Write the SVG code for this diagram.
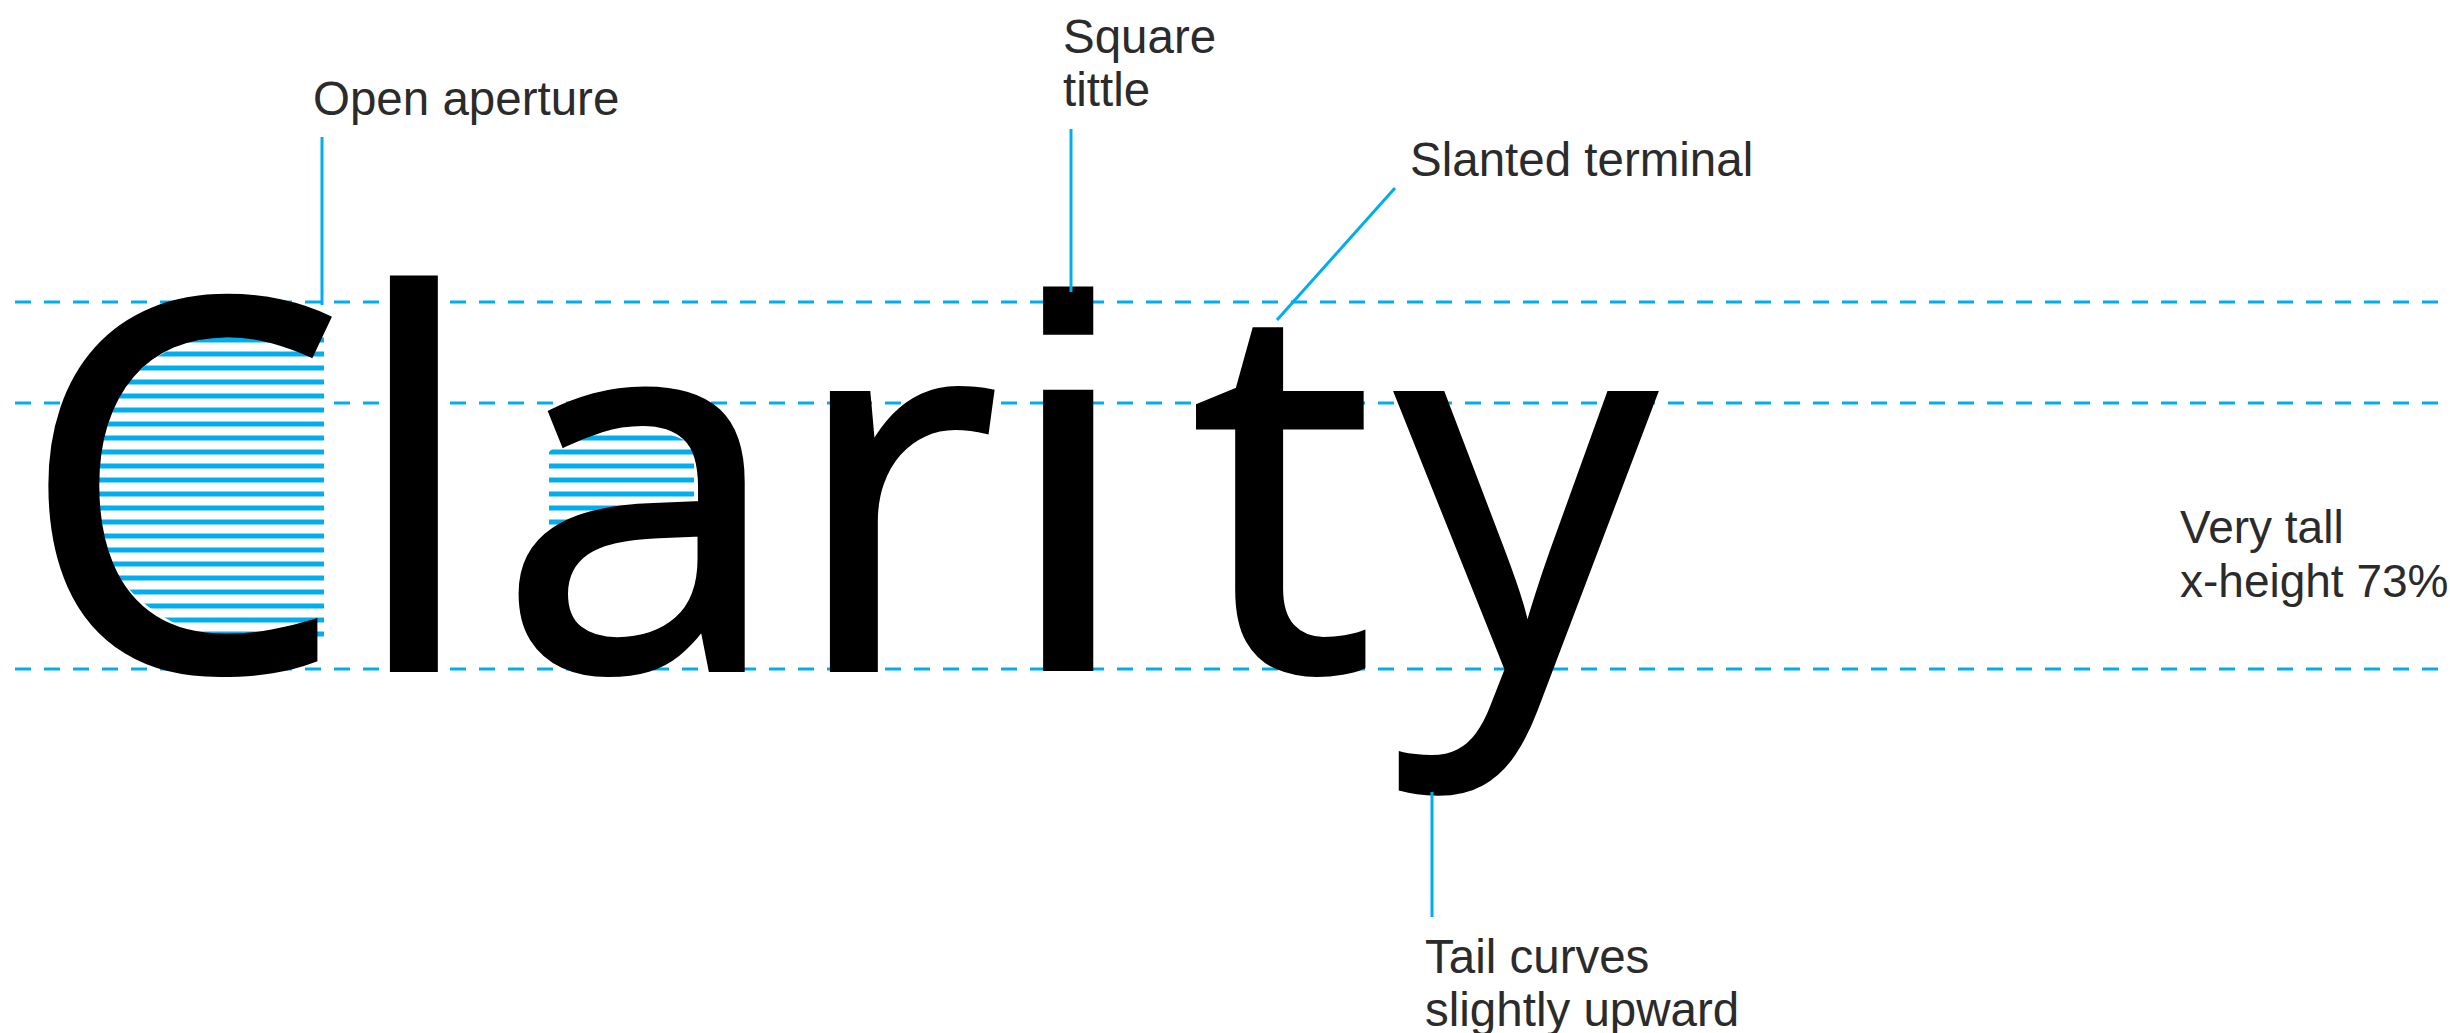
<svg xmlns="http://www.w3.org/2000/svg" width="2450" height="1033" viewBox="0 0 2450 1033">
  <style>
    .guide { stroke: #00aeef; stroke-width: 3; stroke-dasharray: 16 13; fill: none; }
    .leader { stroke: #00aeef; stroke-width: 3; fill: none; }
    .label { font-family: "Liberation Sans", Arial, sans-serif; font-size: 47.5px; fill: #2b2b2b; }
    .label-sm { font-size: 46px; }
    .specimen { font-family: "Open Sans", "Noto Sans", sans-serif; font-size: 514px; font-weight: 400; fill: #000000; stroke: #000000; stroke-width: 6; stroke-linejoin: miter; }
    .sq { font-family: "Liberation Sans", Arial, sans-serif; font-size: 525px; font-weight: 400; stroke-width: 4; }
  </style>
  <defs>
    <pattern id="stripes" patternUnits="userSpaceOnUse" x="0" y="351.5" width="20" height="14">
      <rect x="0" y="0" width="20" height="14" fill="#ffffff"/>
      <rect x="0" y="0" width="20" height="5" fill="#00aeef"/>
    </pattern>
    <clipPath id="clipC">
      <path d="M 324 330 L 248 330 A 160 154 0 0 0 248 640 L 324 640 Z"/>
    </clipPath>
    <clipPath id="clipA">
      <path d="M 549 470 L 549 530 L 694 530 L 694 445 Q 660 426 614 426 Q 570 430 549 452 Z"/>
    </clipPath>
  </defs>
  <rect x="0" y="0" width="2450" height="1033" fill="#ffffff"/>

  <g id="guides">
    <line class="guide" x1="15" y1="302" x2="2450" y2="302"/>
    <line class="guide" x1="15" y1="403" x2="2450" y2="403"/>
    <line class="guide" x1="15" y1="669" x2="2450" y2="669"/>
  </g>

  <g id="aperture-hatch">
    <rect x="80" y="330" width="244" height="310" fill="url(#stripes)" clip-path="url(#clipC)"/>
    <rect x="545" y="420" width="152" height="112" fill="url(#stripes)" clip-path="url(#clipA)"/>
  </g>

  <g id="specimen">
    <text class="specimen" y="669"><tspan x="20">C</tspan><tspan x="349">l</tspan><tspan x="498">a</tspan><tspan x="789">r</tspan><tspan class="sq" x="1010">i</tspan><tspan x="1191">t</tspan><tspan x="1397">y</tspan></text>
  </g>

  <g id="connectors">
    <line class="leader" x1="322" y1="137" x2="322" y2="305"/>
    <line class="leader" x1="1071" y1="129" x2="1071" y2="292"/>
    <line class="leader" x1="1395" y1="188" x2="1277" y2="320"/>
    <line class="leader" x1="1432" y1="792" x2="1432" y2="917"/>
  </g>

  <g id="label-open-aperture">
    <text class="label" x="313" y="115">Open aperture</text>
  </g>
  <g id="label-square-tittle">
    <text class="label" x="1063" y="53">Square</text>
    <text class="label" x="1063" y="106">tittle</text>
  </g>
  <g id="label-slanted-terminal">
    <text class="label" x="1410" y="176">Slanted terminal</text>
  </g>
  <g id="label-x-height">
    <text class="label label-sm" x="2180" y="543">Very tall</text>
    <text class="label label-sm" x="2180" y="597">x-height 73%</text>
  </g>
  <g id="label-tail">
    <text class="label" x="1425" y="973">Tail curves</text>
    <text class="label" x="1425" y="1026">slightly upward</text>
  </g>
</svg>
